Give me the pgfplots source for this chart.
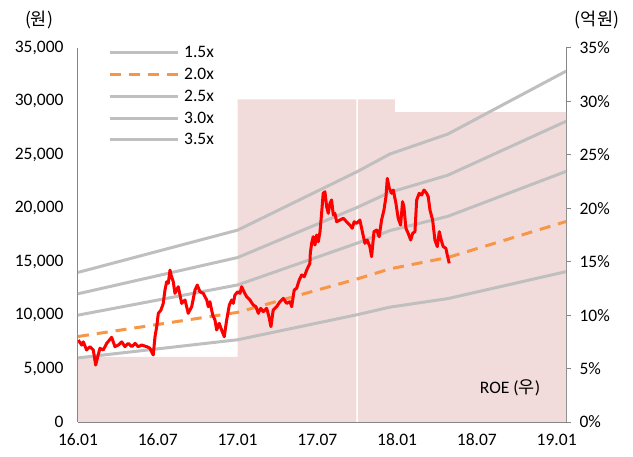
\documentclass[border=0pt]{standalone}
\usepackage{fontspec}
\setmainfont{Carlito}
\newfontfamily\kr{Noto Sans CJK KR}
\usepackage{pgfplots}
\pgfplotsset{compat=1.18}
\definecolor{axgray}{RGB}{134,134,134}
\definecolor{bandgray}{RGB}{191,191,191}
\definecolor{orng}{RGB}{247,150,70}
\definecolor{roepink}{RGB}{242,220,219}
\definecolor{pricered}{RGB}{255,0,0}
\newcommand{\lbl}{\fontsize{17.5bp}{21bp}\selectfont}
\begin{document}
\begin{tikzpicture}
\useasboundingbox (-78bp,-35bp) rectangle (555bp,422bp);
% ROE (right axis, background)
\begin{axis}[
  at={(0,0)}, anchor=south west,
  scale only axis, width=488bp, height=374bp,
  xmin=0, xmax=36.7, ymin=0, ymax=35,
  axis x line=none,
  axis y line*=right,
  axis line style={draw=axgray, line width=1bp, -},
  ytick={0,5,...,35},
  yticklabel={\pgfmathprintnumber{\tick}\%},
  /pgf/number format/assume math mode=true,
  major tick length=5bp, tick align=outside,
  tick style={draw=axgray, line width=1bp},
  yticklabel style={font=\lbl, xshift=5bp},
]
\addplot[const plot, fill=roepink, draw=none] coordinates {(0,6.1) (12,30.2) (20.93,30.2)} \closedcycle;
\addplot[const plot, fill=roepink, draw=none] coordinates {(21.07,30.2) (23.83,29.0) (36.7,29.0)} \closedcycle;
\end{axis}
% Price (left axis)
\begin{axis}[
  at={(0,0)}, anchor=south west,
  scale only axis, width=488bp, height=374bp,
  xmin=0, xmax=36.7, ymin=0, ymax=35000,
  axis x line*=bottom, axis y line*=left,
  axis line style={draw=axgray, line width=1bp, -},
  xtick={0,6,12,18,24,30,36},
  xticklabels={16.01,16.07,17.01,17.07,18.01,18.07,19.01},
  ytick={0,5000,10000,15000,20000,25000,30000,35000},
  scaled y ticks=false,
  /pgf/number format/.cd, 1000 sep={,}, assume math mode=true, /pgfplots/.cd,
  major tick length=0pt,
  yticklabel style={font=\lbl, xshift=-11bp},
  xticklabel style={font=\lbl, yshift=-8.5bp},
  legend style={at={(axis description cs:0.0615,1.008)}, anchor=north west,
    draw=none, fill=none, font=\lbl, inner sep=0pt, row sep=7bp, column sep=4bp,
    nodes={inner sep=1bp}},
  legend cell align=left,
  legend image code/.code={\draw[#1] (0bp,0bp) -- (68bp,0bp);},
]
\addplot[bandgray, line width=3bp] coordinates {(0,6000) (12,7695) (21,10043) (23.46,10749) (27.82,11550) (36.7,14070)};
\addlegendentry{1.5x}
\addplot[orng, line width=3bp, dash pattern=on 11bp off 8bp] coordinates {(0,8000) (12,10260) (21,13390) (23.46,14332) (27.82,15400) (36.7,18760)};
\addlegendentry{2.0x}
\addplot[bandgray, line width=3bp] coordinates {(0,10000) (12,12825) (21,16738) (23.46,17915) (27.82,19250) (36.7,23450)};
\addlegendentry{2.5x}
\addplot[bandgray, line width=3bp] coordinates {(0,12000) (12,15390) (21,20085) (23.46,21498) (27.82,23100) (36.7,28140)};
\addlegendentry{3.0x}
\addplot[bandgray, line width=3bp] coordinates {(0,14000) (12,17955) (21,23433) (23.46,25081) (27.82,26950) (36.7,32830)};
\addlegendentry{3.5x}
\addplot[pricered, line width=3bp, line join=round, forget plot] coordinates {
(0.02,7670) (0.28,7200) (0.40,7500) (0.65,6740) (0.90,7050) (1.15,6740) (1.33,5330) (1.48,6100)
(1.65,6900) (1.90,6740) (2.16,7360) (2.53,7930) (2.78,7050) (3.03,7200) (3.29,7500) (3.53,7050)
(3.78,7360) (4.04,7050) (4.29,7360) (4.53,7050) (4.79,7200) (5.17,7050) (5.41,6900) (5.66,6270)
(5.79,7980) (5.92,8920) (6.04,10170) (6.24,10480) (6.41,11100) (6.54,12350) (6.67,13130) (6.79,12980)
(6.92,14220) (7.00,13760) (7.17,13100) (7.29,12040) (7.54,12660) (7.80,11100) (8.05,11420) (8.29,10170)
(8.55,10790) (8.80,12350) (8.97,12820) (9.17,12190) (9.42,12040) (9.68,11420) (9.80,10790) (9.92,11260)
(10.13,10010) (10.30,9550) (10.43,8610) (10.62,9240) (10.80,8610) (11.00,7980) (11.18,9550) (11.38,10950)
(11.56,11420) (11.68,11100) (11.80,11880) (12.01,12190) (12.18,12040) (12.31,12660) (12.48,12190) (12.68,11730)
(12.93,11420) (13.18,10950) (13.38,10790) (13.56,10170) (13.74,10640) (13.93,10320) (14.19,10640) (14.36,9850)
(14.51,8920) (14.68,10480) (14.94,10790) (15.19,11260) (15.44,11570) (15.69,11100) (15.94,11260) (16.07,10790)
(16.26,12350) (16.44,12510) (16.64,13290) (16.82,13760) (17.02,13600) (17.20,14220) (17.44,14850) (17.47,15790)
(17.57,16720) (17.69,17340) (17.82,16560) (17.95,17500) (18.07,16870) (18.20,17810) (18.32,19530) (18.44,21400)
(18.57,21550) (18.70,20150) (18.82,19530) (18.95,20470) (19.07,20780) (19.20,19370) (19.32,19530) (19.45,18740)
(19.70,18900) (19.95,19060) (20.20,18740) (20.45,18430) (20.62,18130) (20.77,18740) (20.95,18590) (21.20,18900)
(21.41,17660) (21.58,16720) (21.75,17030) (21.95,16410) (22.08,15470) (22.26,17810) (22.46,17970) (22.65,17340)
(22.83,18900) (23.01,19840) (23.16,21080) (23.26,22800) (23.41,21870) (23.59,21400) (23.71,21710) (23.91,20470)
(24.08,19060) (24.26,18430) (24.41,20620) (24.51,20150) (24.66,18130) (24.83,17660) (25.02,17030) (25.17,17660)
(25.34,17810) (25.47,20780) (25.66,21400) (25.84,21240) (26.02,21710) (26.22,21400) (26.34,21080) (26.47,19840)
(26.67,18900) (26.84,17030) (27.02,16410) (27.17,17810) (27.35,16870) (27.47,16410) (27.67,16250) (27.77,15630)
(27.92,14850)};
\end{axis}
\node[font=\kr\fontsize{17.5bp}{21bp}\selectfont] at (-39bp,402bp) {(원)};
\node[font=\kr\fontsize{17.5bp}{21bp}\selectfont] at (519bp,402bp) {(억원)};
\node[font=\lbl] at (432bp,34bp) {ROE ({\kr 우})};
\end{tikzpicture}
\end{document}
